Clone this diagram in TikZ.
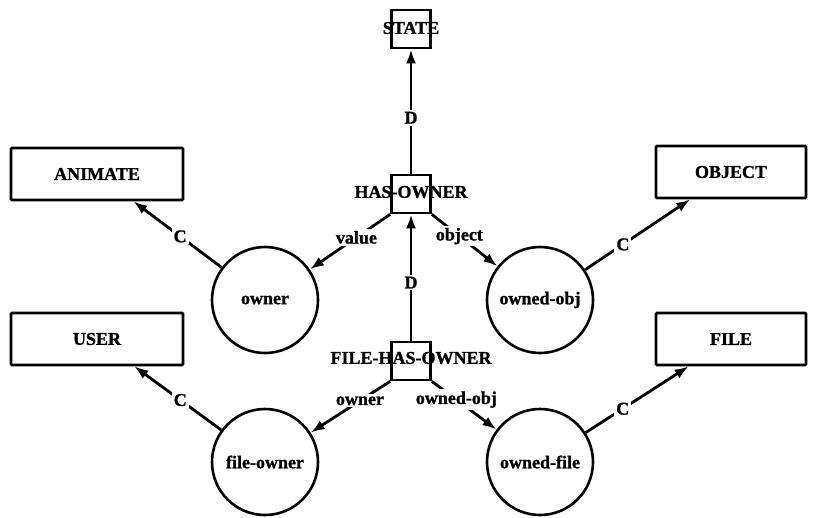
\documentclass[tikz,border=0pt]{standalone}
\usepackage{fontspec}
\setmainfont[BoldFeatures={FakeBold=1.2}]{Liberation Serif}
\usetikzlibrary{arrows.meta}
\begin{document}
\begin{tikzpicture}[x=1pt,y=-1pt,
  every node/.style={font=\bfseries\fontsize{18}{20}\selectfont},
  bigbox/.style={draw, line width=2.6pt, rounded corners=1pt, minimum height=52pt, inner sep=0pt},
  sqbox/.style={draw, line width=2.6pt, minimum width=39pt, minimum height=38pt, inner sep=0pt},
  concept/.style={draw, circle, line width=2.6pt, minimum size=106pt, inner sep=0pt},
  lbl/.style={fill=white, inner sep=2pt},
  link/.style={line width=2.8pt, -{Latex[length=14pt,width=10pt]}},
]
\useasboundingbox (0,0) rectangle (816,517);

% square relation boxes
\node[sqbox] (state) at (411,29) {};
\node (statet) at (411,28) {STATE};
\node[sqbox] (hasowner) at (411,194) {};
\node (hasownert) at (411,192) {HAS-OWNER};
\node[sqbox] (fho) at (411,361) {};
\node (fhot) at (411,358) {FILE-HAS-OWNER};

% concept boxes
\node[bigbox, minimum width=172pt] (animate) at (97,174) {ANIMATE};
\node[bigbox, minimum width=172pt] (user) at (97,339) {USER};
\node[bigbox, minimum width=150pt] (object) at (731,172) {OBJECT};
\node[bigbox, minimum width=150pt] (file) at (731,339) {FILE};

% circles
\node[concept] (owner) at (265,300) {owner};
\node[concept] (ownedobj) at (540,300) {owned-obj};
\node[concept] (fileowner) at (265,462) {file-owner};
\node[concept] (ownedfile) at (540,462) {owned-file};

% D links
\draw[link] (hasowner) -- node[lbl, pos=0.45] (d1) {D} (state);
\draw[link] (fho) -- node[lbl, pos=0.46] (d2) {D} (hasowner);

% role links
\draw[link] (hasowner.south west) -- node[lbl, pos=0.42] (l1) {value} (owner);
\draw[link] (hasowner.south east) -- node[lbl, pos=0.42] (l2) {object} (ownedobj);
\draw[link] (fho.south west) -- node[lbl, pos=0.38] (l3) {owner} (fileowner);
\draw[link] (fho.south east) -- node[lbl, pos=0.38] (l4) {owned-obj} (ownedfile);

% C links
\draw[link] (owner) -- node[lbl, pos=0.47] (c1) {C} (animate);
\draw[link] (ownedobj) -- node[lbl, pos=0.36] (c2) {C} (object);
\draw[link] (fileowner) -- node[lbl, pos=0.47] (c3) {C} (user);
\draw[link] (ownedfile) -- node[lbl, pos=0.36] (c4) {C} (file);
\end{tikzpicture}
\end{document}
